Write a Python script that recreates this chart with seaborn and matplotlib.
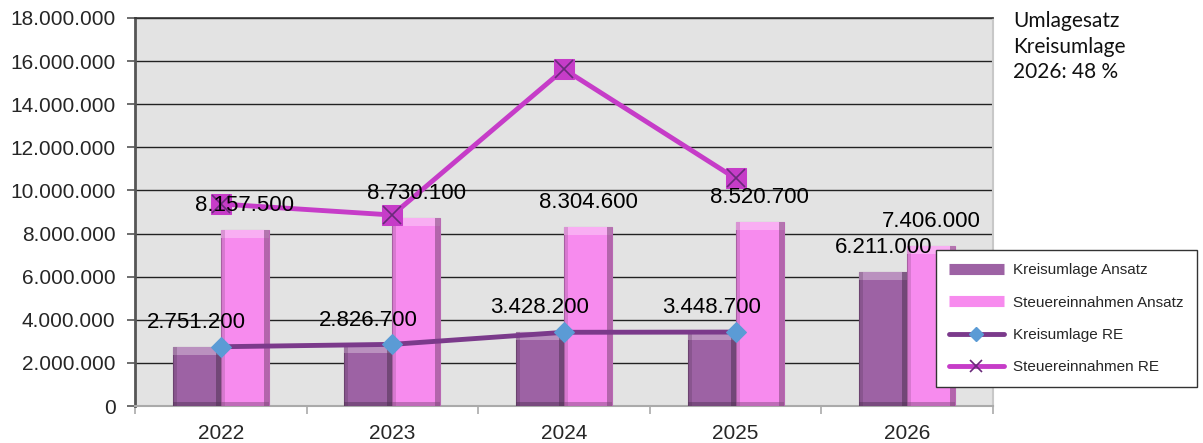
import numpy as np
import pandas as pd
import matplotlib
matplotlib.use("Agg")
import matplotlib.pyplot as plt
from matplotlib.lines import Line2D
from matplotlib.patches import Rectangle
import seaborn as sns

# Haushaltsjahre und Werte
years = ["2022", "2023", "2024", "2025", "2026"]
kreisumlage_ansatz = [2751200, 2826700, 3428200, 3448700, 6211000]
steuer_ansatz = [8157500, 8730100, 8304600, 8520700, 7406000]
kreisumlage_re = [2750000, 2860000, 3420000, 3430000]
steuer_re = [9370000, 8860000, 15620000, 10560000]
y_ticks = [0, 2000000, 4000000, 6000000, 8000000, 10000000,
           12000000, 14000000, 16000000, 18000000]
note_text = "Umlagesatz\nKreisumlage\n2026: 48 %"

series_names = ["Kreisumlage Ansatz", "Steuereinnahmen Ansatz",
                "Kreisumlage RE", "Steuereinnahmen RE"]

c_kreis_bar = "#9D62A4"
c_steuer_bar = "#F78BEE"
c_kreis_line = "#7B3A8B"
c_kreis_marker = "#5B9BD5"
c_steuer_line = "#C63CC8"
c_steuer_x = "#6A2A7A"

sns.set_theme(style="white")
plt.rcParams["font.family"] = ["Liberation Sans", "DejaVu Sans"]

def de_format(v):
    return f"{v:,.0f}".replace(",", ".")

bars = pd.DataFrame({
    "Jahr": years * 2,
    "Wert": kreisumlage_ansatz + steuer_ansatz,
    "Serie": [series_names[0]] * len(years) + [series_names[1]] * len(years),
})

fig = plt.figure(figsize=(12.03, 4.43), dpi=100)
ax = fig.add_axes([0.1122, 0.0835, 0.7132, 0.8759])
ax.set_facecolor("#E3E3E3")

sns.barplot(data=bars, x="Jahr", y="Wert", hue="Serie", order=years,
            hue_order=series_names[:2],
            palette=[c_kreis_bar, c_steuer_bar], width=0.56,
            saturation=1, ax=ax, legend=False, zorder=3)

ax.set_ylim(0, 18000000)
ax.set_xlim(-0.5, len(years) - 0.5)

# bevel shading on each bar, derived from the bar geometry
px_y = 18000000 / 388.0
px_x = (len(years)) / 858.0
for patch in list(ax.patches):
    x0, w, h = patch.get_x(), patch.get_width(), patch.get_height()
    if h <= 0:
        continue
    base = np.array(matplotlib.colors.to_rgb(patch.get_facecolor()))
    dark = base * 0.5
    light = np.clip(base + (1 - base) * 0.3, 0, 1)
    patch.set_edgecolor(tuple(base * 0.75))
    patch.set_linewidth(0.8)
    ax.add_patch(Rectangle((x0, h - 8 * px_y), w, 8 * px_y, facecolor=light,
                           edgecolor="none", zorder=3.1))
    ax.add_patch(Rectangle((x0 + w - 5 * px_x, 0), 5 * px_x, h,
                           facecolor=dark, edgecolor="none", alpha=0.55,
                           zorder=3.2))
    ax.add_patch(Rectangle((x0, 0), w, 4 * px_y, facecolor=dark,
                           edgecolor="none", alpha=0.45, zorder=3.2))
    ax.add_patch(Rectangle((x0, 0), 4 * px_x, h, facecolor=dark,
                           edgecolor="none", alpha=0.25, zorder=3.2))

# value labels above the bars
n = len(years)
for i in range(n):
    ax.annotate(de_format(kreisumlage_ansatz[i]), (i - 0.14, kreisumlage_ansatz[i]),
                xytext=(0, 10), textcoords="offset points", ha="center",
                va="bottom", fontsize=16, color="black", zorder=6)
    ax.annotate(de_format(steuer_ansatz[i]), (i + 0.14, steuer_ansatz[i]),
                xytext=(0, 10), textcoords="offset points", ha="center",
                va="bottom", fontsize=16, color="black", zorder=6)

re_x = list(range(len(kreisumlage_re)))
sns.lineplot(x=re_x, y=kreisumlage_re, ax=ax, color=c_kreis_line, lw=3.5,
             marker="D", markersize=10, markerfacecolor=c_kreis_marker,
             markeredgecolor=c_kreis_marker, zorder=5)
sns.lineplot(x=re_x, y=steuer_re, ax=ax, color=c_steuer_line, lw=3.5,
             marker="s", markersize=15, markerfacecolor=c_steuer_line,
             markeredgecolor=c_steuer_line, zorder=5)
sns.lineplot(x=re_x, y=steuer_re, ax=ax, lw=0, marker="x", markersize=13,
             markeredgecolor=c_steuer_x, markeredgewidth=1.2, zorder=5.5)

# axes styling
ax.set_yticks(y_ticks)
ax.set_yticklabels([de_format(v) for v in y_ticks], fontsize=15)
ax.set_xticks(range(n))
ax.set_xticklabels(years, fontsize=15)
ax.set_xlabel("")
ax.set_ylabel("")
ax.yaxis.grid(True, color="#222222", lw=1.0, zorder=1)
ax.set_axisbelow(True)
ax.tick_params(axis="y", left=True, length=6, width=1.2, color="#555555", pad=8)
ax.tick_params(axis="x", bottom=False, pad=7)
# boundary ticks between categories on the x axis
ax.set_xticks([i - 0.5 for i in range(n + 1)], minor=True)
ax.tick_params(axis="x", which="minor", bottom=True, length=6, width=1.2,
               color="#AAAAAA")
ax.spines["left"].set_color("#555555")
ax.spines["left"].set_linewidth(2)
ax.spines["bottom"].set_color("#AAAAAA")
ax.spines["bottom"].set_linewidth(1.5)
ax.spines["right"].set_color("#C8C8C8")
ax.spines["right"].set_linewidth(1.5)
ax.spines["top"].set_color("#333333")
ax.spines["top"].set_linewidth(1.2)

handles = [
    Line2D([0], [0], color=c_kreis_bar, lw=8, solid_capstyle="butt"),
    Line2D([0], [0], color=c_steuer_bar, lw=8, solid_capstyle="butt"),
    Line2D([0], [0], color=c_kreis_line, lw=3.5, marker="D", markersize=7,
           markerfacecolor=c_kreis_marker, markeredgecolor=c_kreis_marker),
    Line2D([0], [0], color=c_steuer_line, lw=3.5, marker="x", markersize=9,
           markeredgecolor=c_steuer_x, markeredgewidth=1.2),
]
leg = fig.legend(handles, series_names, loc="upper left",
                 bbox_to_anchor=(0.778, 0.435), fontsize=11, frameon=True,
                 fancybox=False, framealpha=1, edgecolor="#333333",
                 handlelength=3.6, labelspacing=1.2, borderpad=0.85,
                 handletextpad=0.6, borderaxespad=0)
leg.get_frame().set_linewidth(1.0)
leg.set_zorder(10)

fig.text(0.842, 0.975, note_text, fontsize=15, family=["Lato", "DejaVu Sans"],
         va="top", ha="left", linespacing=1.35, color="#111111")

fig.savefig("out.png", dpi=100, facecolor="white")
